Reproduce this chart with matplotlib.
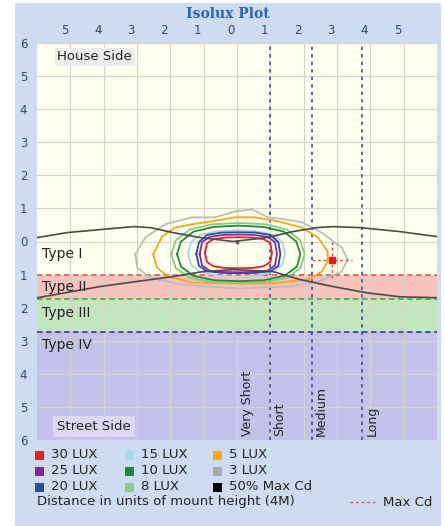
import matplotlib.pyplot as plt
from matplotlib.patches import Rectangle
from matplotlib.lines import Line2D
from matplotlib.transforms import ScaledTranslation

# isolux outlines (x, y in mount heights)
iso30 = [(-0.96, -0.35), (-0.90, -0.05), (-0.70, 0.07), (-0.35, 0.12), (0.05, 0.13), (0.45, 0.12),
         (0.80, 0.07), (1.00, -0.05), (1.05, -0.35), (1.00, -0.62), (0.80, -0.75), (0.45, -0.80),
         (0.05, -0.81), (-0.35, -0.80), (-0.70, -0.75), (-0.90, -0.62)]
iso25 = [(-1.12, -0.38), (-1.05, -0.02), (-0.82, 0.14), (-0.40, 0.20), (0.05, 0.21), (0.50, 0.20),
         (0.92, 0.14), (1.14, -0.02), (1.20, -0.38), (1.14, -0.72), (0.92, -0.88), (0.50, -0.92),
         (0.05, -0.93), (-0.40, -0.92), (-0.82, -0.88), (-1.05, -0.72)]
iso20 = [(-1.22, -0.38), (-1.14, -0.02), (-0.90, 0.20), (-0.45, 0.27), (0.05, 0.28), (0.55, 0.27),
         (1.00, 0.20), (1.24, -0.02), (1.30, -0.38), (1.24, -0.74), (1.00, -0.90), (0.55, -0.95),
         (0.05, -0.96), (-0.45, -0.95), (-0.90, -0.90), (-1.14, -0.74)]
iso15 = [(-1.47, -0.36), (-1.38, -0.02), (-1.10, 0.20), (-0.60, 0.31), (0.00, 0.34), (0.60, 0.31),
         (1.10, 0.20), (1.36, -0.02), (1.44, -0.36), (1.36, -0.70), (1.10, -0.92), (0.60, -1.03),
         (0.00, -1.06), (-0.60, -1.03), (-1.10, -0.92), (-1.38, -0.70)]
iso10 = [(-1.80, -0.38), (-1.68, 0.00), (-1.30, 0.30), (-0.70, 0.44), (0.05, 0.48), (0.80, 0.44),
         (1.40, 0.30), (1.78, 0.00), (1.90, -0.38), (1.80, -0.76), (1.42, -1.04), (0.80, -1.17),
         (0.05, -1.20), (-0.70, -1.17), (-1.30, -1.04), (-1.68, -0.76)]
iso8 = [(-1.97, -0.38), (-1.84, 0.03), (-1.42, 0.36), (-0.75, 0.52), (0.05, 0.56), (0.85, 0.52),
        (1.50, 0.36), (1.90, 0.03), (2.03, -0.38), (1.90, -0.80), (1.50, -1.10), (0.85, -1.23),
        (0.05, -1.26), (-0.75, -1.23), (-1.42, -1.10), (-1.84, -0.80)]
iso5 = [(-2.51, -0.39), (-2.25, 0.15), (-1.86, 0.42), (-1.35, 0.52), (-0.75, 0.61), (-0.06, 0.73),
        (0.54, 0.73), (1.23, 0.61), (1.95, 0.42), (2.43, 0.12), (2.72, -0.30), (2.72, -0.61),
        (2.54, -0.91), (2.13, -1.15), (0.99, -1.27), (0.00, -1.27), (-1.35, -1.24), (-2.07, -1.06),
        (-2.40, -0.79)]
iso3 = [(-3.05, -0.39), (-2.75, 0.12), (-2.16, 0.52), (-1.35, 0.73), (-0.66, 0.73), (-0.06, 0.91),
        (0.45, 0.97), (0.93, 0.73), (1.44, 0.67), (1.95, 0.58), (2.54, 0.27), (3.14, -0.18),
        (3.32, -0.55), (3.14, -0.91), (2.43, -1.21), (1.59, -1.36), (0.00, -1.42), (-1.71, -1.30),
        (-2.60, -1.09), (-2.99, -0.79)]

iso_curves = [iso30, iso25, iso20, iso15, iso10, iso8, iso5, iso3]
iso_colors = ['#e8202a', '#8a2a9a', '#2a48a8', '#a8d4ea', '#1f8a3a', '#8cc880', '#f5a623', '#bcbcbc']

# 50% max candela traces
cd_upper_x = [-5.99, -5.09, -4.10, -3.11, -2.60, -1.92, -1.11, -0.12, 0.90, 1.68, 2.40, 2.87, 3.68, 4.88, 5.99]
cd_upper_y = [0.12, 0.27, 0.36, 0.45, 0.42, 0.27, 0.12, 0.00, 0.12, 0.30, 0.42, 0.45, 0.42, 0.30, 0.15]
cd_lower_x = [-5.99, -4.10, -1.92, -1.02, -0.12, 1.08, 1.89, 2.87, 3.89, 4.88, 5.99]
cd_lower_y = [-1.70, -1.36, -1.06, -0.91, -0.85, -0.91, -1.15, -1.36, -1.55, -1.67, -1.70]

maxcd_x, maxcd_y = 2.84, -0.55

# lateral type boundaries and longitudinal range boundaries
type_lines = [-1.0, -1.75, -2.75]
type_line_colors = ['#e06060', '#48b050', '#3848a8']
range_lines = [1.0, 2.25, 3.75]

type_names = ['Type I', 'Type II', 'Type III', 'Type IV']
type_label_y = [-0.39, -1.39, -2.15, -3.12]
range_names = ['Very Short', 'Short', 'Medium', 'Long']
range_label_x = [0.30, 1.29, 2.54, 4.07]

xticks = list(range(-5, 6))
yticks = list(range(-6, 7))

legend_labels = ['30 LUX', '25 LUX', '20 LUX', '15 LUX', '10 LUX', '8 LUX', '5 LUX', '3 LUX', '50% Max Cd']
legend_colors = ['#e32222', '#7f2a90', '#24509c', '#a9d8ec', '#1a8a35', '#8fc98a', '#f7a823', '#a8a8a8', '#000000']

W, H = 445, 526
fig = plt.figure(figsize=(W / 100, H / 100), dpi=100)
fig.patch.set_facecolor('white')
fig.add_artist(Rectangle((15 / W, 0), 426 / W, 523 / H, transform=fig.transFigure,
                         facecolor='#cddcf2', edgecolor='none', zorder=0))

ax = fig.add_axes([37 / W, 1 - 440 / H, 400 / W, 397 / H])
ax.set_xlim(-6, 6)
ax.set_ylim(-6, 6)

ax.axhspan(-1.0, 6, color='#fefeec', zorder=0.1, lw=0)
ax.axhspan(-1.75, -1.0, color='#f6c2bc', zorder=0.1, lw=0)
ax.axhspan(-2.75, -1.75, color='#c4e6be', zorder=0.1, lw=0)
ax.axhspan(-6, -2.75, color='#c4c1ea', zorder=0.1, lw=0)

ax.set_axisbelow(True)
ax.grid(True, color='#d4d4c8', lw=0.8)
ax.xaxis.tick_top()
ax.set_xticks(xticks)
ax.set_xticklabels([str(abs(v)) for v in xticks])
ax.set_yticks(yticks)
ax.set_yticklabels([str(abs(v)) for v in yticks])
ax.tick_params(length=0, labelsize=8.5, labelcolor='#34446e')
ax.tick_params(axis='x', pad=4)
ax.tick_params(axis='y', pad=7)
for lab in ax.get_xticklabels():
    lab.set_transform(lab.get_transform() + ScaledTranslation(-0.06, 0, fig.dpi_scale_trans))
for s in ax.spines.values():
    s.set_visible(False)

for yv, c in zip(type_lines, type_line_colors):
    ax.axhline(yv, color=c, ls=(0, (3, 2)), lw=1.3, zorder=2)
for xv in range_lines:
    ax.axvline(xv, color='#3a4a9c', ls=(0, (2, 2.5)), lw=1.2, zorder=2)

for pts, c in zip(iso_curves[::-1], iso_colors[::-1]):
    xs = [p[0] for p in pts] + [pts[0][0]]
    ys = [p[1] for p in pts] + [pts[0][1]]
    ax.plot(xs, ys, color=c, lw=1.3, zorder=3)

ax.plot(cd_upper_x, cd_upper_y, color='#4a4a4a', lw=1.2, zorder=4)
ax.plot(cd_lower_x, cd_lower_y, color='#4a4a4a', lw=1.2, zorder=4)
ax.plot([0], [0], marker='s', ms=2, color='#555555', zorder=4)

ax.plot([maxcd_x - 0.6, maxcd_x + 0.6], [maxcd_y, maxcd_y], color='#e04848', ls=(0, (2, 2)), lw=1, zorder=5)
ax.plot([maxcd_x, maxcd_x], [maxcd_y - 0.55, maxcd_y + 0.6], color='#e04848', ls=(0, (2, 2)), lw=1, zorder=5)
ax.plot([maxcd_x], [maxcd_y], marker='s', ms=5, color='#e81818', zorder=6)

ax.text(-5.39, 5.58, 'House Side', fontsize=9.5, color='#222222', va='center', zorder=6,
        bbox=dict(boxstyle='square,pad=0.2', fc='#ececec', ec='none'))
ax.text(-5.39, -5.6, 'Street Side', fontsize=9.5, color='#222222', va='center', zorder=6,
        bbox=dict(boxstyle='square,pad=0.3', fc='#dcd8f4', ec='none'))
for name, yv in zip(type_names, type_label_y):
    ax.text(-5.84, yv, name, fontsize=10, color='#222222', va='center', zorder=6)
for name, xv in zip(range_names, range_label_x):
    ax.text(xv, -5.88, name, fontsize=9, color='#222222', rotation=90, ha='center', va='bottom', zorder=6)

fig.text(228 / W, 1 - 14 / H, 'Isolux Plot', ha='center', va='center', fontsize=10,
         fontweight='bold', family='DejaVu Serif', color='#2a62b4')

# legend block under the plot
col_x = [35, 125, 213]
row_y = [455, 471, 487]
for i, (lab, c) in enumerate(zip(legend_labels, legend_colors)):
    cx = col_x[i // 3]
    ry = row_y[i % 3]
    fig.add_artist(Rectangle((cx / W, 1 - (ry + 4.5) / H), 9 / W, 9 / H, transform=fig.transFigure,
                             facecolor=c, edgecolor='none'))
    fig.text((cx + 16) / W, 1 - ry / H, lab, fontsize=9.5, color='#222222', va='center')
fig.text(37 / W, 1 - 502 / H, 'Distance in units of mount height (4M)', fontsize=9.5, color='#222222', va='center')
fig.add_artist(Line2D([350 / W, 377 / W], [1 - 502 / H, 1 - 502 / H], transform=fig.transFigure,
                      color='#e04878', ls=(0, (2, 2)), lw=1))
fig.text(383 / W, 1 - 502 / H, 'Max Cd', fontsize=9.5, color='#222222', va='center')

fig.savefig('out.png', dpi=100)
